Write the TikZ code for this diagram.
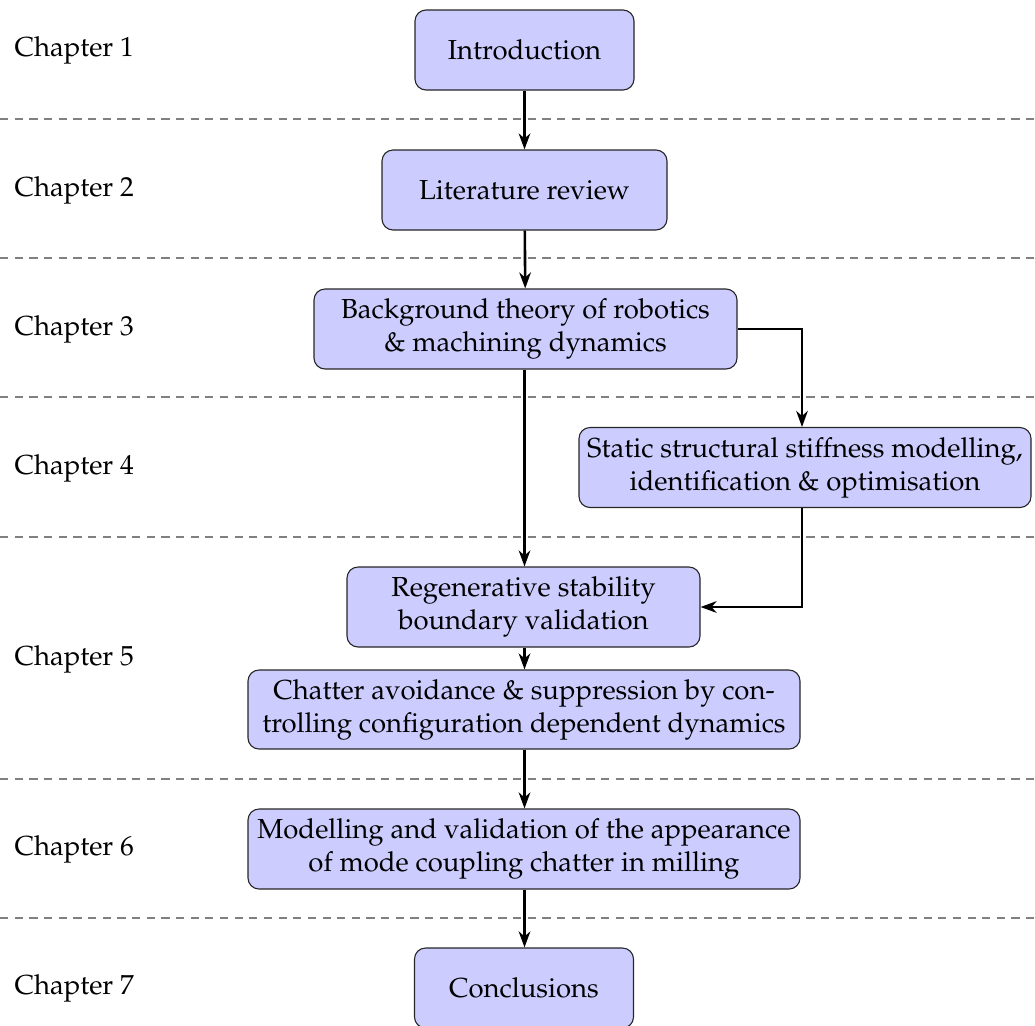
\documentclass[tikz,border=0pt]{standalone}
\usepackage[T1]{fontenc}
\usepackage{mathpazo}
\usetikzlibrary{arrows.meta}

% one drawing unit
\def\pxu{0.3636pt}

\begin{document}
\begin{tikzpicture}[
  x=\pxu, y=-\pxu,
  box/.style={draw=black!85, line width=0.4pt, fill=blue!20, rounded corners=4pt,
    align=center, inner sep=0pt, minimum height=80*\pxu},
  chap/.style={anchor=west, inner sep=0pt},
  sep/.style={draw=gray, line width=0.6pt, dash pattern=on 3pt off 2.33pt},
  flow/.style={draw=black, line width=0.95pt,
    -{Stealth[length=5.8pt, width=4.2pt, inset=1.8pt]}}
]
\useasboundingbox (0,0) rectangle (1035,1025);

% chapter separators
\foreach \yy in {119,258,397,537,779,918}
  \draw[sep] (0,\yy) -- (1035,\yy);

% chapter labels
\node[chap] (c1) at (14,50)  {Chapter 1};
\node[chap] (c2) at (14,190) {Chapter 2};
\node[chap] (c3) at (14,329) {Chapter 3};
\node[chap] (c4) at (14,468) {Chapter 4};
\node[chap] (c5) at (14,659) {Chapter 5};
\node[chap] (c6) at (14,849) {Chapter 6};
\node[chap] (c7) at (14,988) {Chapter 7};

% thesis structure
\node[box, minimum width=219*\pxu] (intro) at (524.5,50) {Introduction};
\node[box, minimum width=285*\pxu] (lit) at (524.5,190) {Literature review};
\node[box, minimum width=423*\pxu] (bg) at (525.5,329)
  {Background theory of robotics\\\& machining dynamics};
\node[box, minimum width=452*\pxu] (st) at (805,467.5)
  {Static structural stiffness modelling,\\identification \& optimisation};
\node[box, minimum width=353*\pxu] (rg) at (523.5,607)
  {Regenerative stability\\boundary validation};
\node[box, minimum width=552*\pxu, minimum height=79*\pxu] (ch) at (524,709.5)
  {Chatter avoidance \& suppression by con-\\trolling configuration dependent dynamics};
\node[box, minimum width=552*\pxu] (mc) at (524,849)
  {Modelling and validation of the appearance\\of mode coupling chatter in milling};
\node[box, minimum width=219*\pxu] (cc) at (524,988) {Conclusions};

% side branch column
\coordinate (side) at (802,0);

% connectors
\draw[flow] (intro) -- (lit);
\draw[flow] (lit) -- (bg);
\draw[flow] (bg.south -| lit.south) -- (rg.north -| lit.south);
\draw[flow] (bg.east) -- (bg.east -| side) -- (side |- st.north);
\draw[flow] (st.south -| side) -- (side |- rg.east) -- (rg.east);
\draw[flow] (rg.south -| lit.south) -- (ch.north -| lit.south);
\draw[flow] (ch.south -| lit.south) -- (mc.north -| lit.south);
\draw[flow] (mc.south -| lit.south) -- (cc.north -| lit.south);
\end{tikzpicture}
\end{document}
